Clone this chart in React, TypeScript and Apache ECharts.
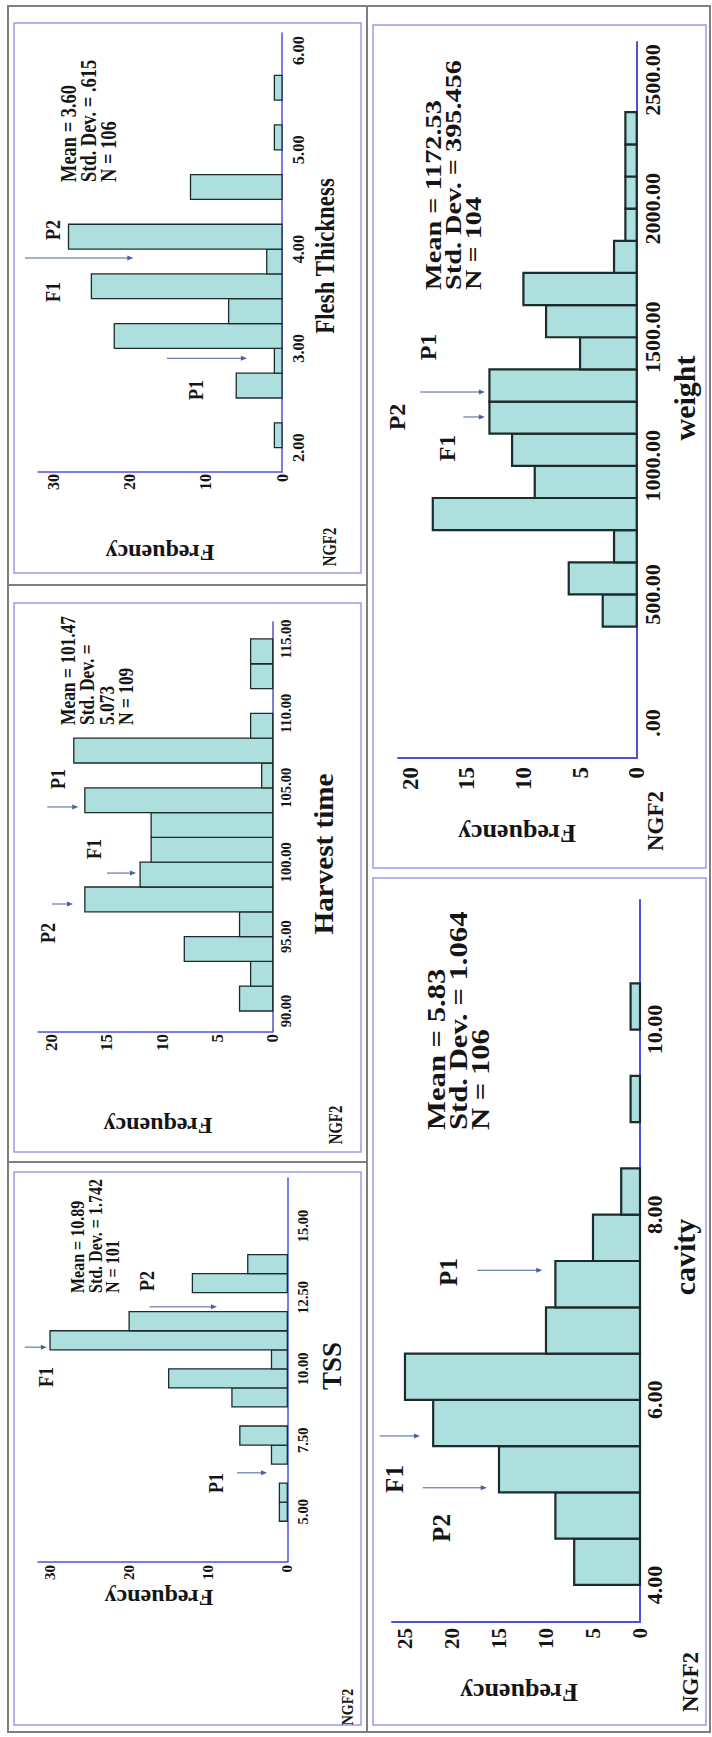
import React, { useEffect, useRef } from 'react';
import * as echarts from 'echarts';

// ---------------- data ----------------
// Flesh Thickness
const fleshBinStarts = [2.0, 2.25, 2.5, 2.75, 3.0, 3.25, 3.5, 3.75, 4.0, 4.25, 4.5, 4.75, 5.0, 5.25, 5.5];
const fleshCounts = [1, 0, 6, 1, 22, 7, 25, 2, 28, 0, 12, 0, 1, 0, 1];
const fleshBinWidth = 0.25;
const fleshTicks = [2, 3, 4, 5, 6];
const fleshFreqTicks = [0, 10, 20, 30];
const fleshArrows = [[3.91, 33.7, 19.5], [2.9, 15.1, 4.6]];

// Harvest time
const harvestBinStarts = [90, 91.667, 93.333, 95, 96.667, 98.333, 100, 101.667, 103.333, 105, 106.667, 108.333, 110, 111.667, 113.333];
const harvestCounts = [3, 2, 8, 3, 17, 12, 11, 11, 17, 1, 18, 2, 0, 2, 2];
const harvestBinWidth = 1.6667;
const harvestTicks = [90, 95, 100, 105, 110, 115];
const harvestFreqTicks = [0, 5, 10, 15, 20];
const harvestArrows = [[97.19, 19.97, 18.07], [99.27, 15.0, 12.37], [103.71, 20.4, 17.6]];

// TSS
const tssBinStarts = [4.667, 5.333, 6.0, 6.667, 7.333, 8.0, 8.667, 9.333, 10.0, 10.667, 11.333, 12.0, 12.667, 13.333];
const tssCounts = [1, 1, 0, 2, 6, 0, 7, 15, 2, 30, 20, 0, 12, 5];
const tssBinWidth = 0.6667;
const tssTicks = [5, 7.5, 10, 12.5, 15];
const tssFreqTicks = [0, 10, 20, 30];
const tssArrows = [[10.76, 33.2, 30.4], [12.17, 17.4, 8.9], [6.36, 6.36, 2.57]];

// weight
const weightBinStarts = [375, 500, 625, 750, 875, 1000, 1125, 1250, 1375, 1500, 1625, 1750, 1875, 2000, 2125, 2250];
const weightCounts = [3, 6, 2, 18, 9, 11, 13, 13, 5, 8, 10, 2, 1, 1, 1, 1];
const weightBinWidth = 125;
const weightTicks = [0, 500, 1000, 1500, 2000, 2500];
const weightFreqTicks = [0, 5, 10, 15, 20];
const weightArrows = [[1287, 19.1, 13.4], [1190, 15.3, 13.4]];

// cavity
const cavityBinStarts = [4.0, 4.5, 5.0, 5.5, 6.0, 6.5, 7.0, 7.5, 8.0, 8.5, 9.0, 9.5, 10.0];
const cavityCounts = [7, 9, 15, 22, 25, 10, 9, 5, 2, 0, 1, 0, 1];
const cavityBinWidth = 0.5;
const cavityTicks = [4, 6, 8, 10];
const cavityFreqTicks = [0, 5, 10, 15, 20, 25];
const cavityArrows = [[5.61, 27.7, 23.4], [5.05, 23.1, 16.3], [7.4, 17.3, 10.4]];

// ---------------- styling / layout (landscape coordinates) ----------------
const FONT = "'Liberation Serif', 'Times New Roman', serif";
const TXT = '#151515';
const BAR_FILL = '#acdfdd';
const BAR_STROKE = '#1c2b2b';
const AXIS_COLOR = '#4f4fdc';
const FRAME_COLOR = '#9a9ae8';
const GRAY = '#7f7f7f';
const ARROW = '#4a5f9c';

type Panel = {
  left: number; top: number; width: number; height: number;
  xMin: number; xMax: number; yMax: number;
  xFont: number; xMargin: number; yFont: number; yMargin: number;
  lw: number; axisW: number;
  starts: number[]; counts: number[]; bw: number;
  ticks: number[]; freqTicks: number[]; arrows: number[][];
};

const panels: Panel[] = [
  { left: 1265, top: 38, width: 439, height: 244, xMin: 1.755, xMax: 6.176, yMax: 32, xFont: 16.5, xMargin: 8, yFont: 16, yMargin: 2, lw: 1.3, axisW: 1.5,
    starts: fleshBinStarts, counts: fleshCounts, bw: fleshBinWidth, ticks: fleshTicks, freqTicks: fleshFreqTicks, arrows: fleshArrows },
  { left: 705, top: 38, width: 410, height: 234.7, xMin: 88.59, xMax: 116.14, yMax: 21.24, xFont: 14.5, xMargin: 6, yFont: 17, yMargin: 2, lw: 1.3, axisW: 1.5,
    starts: harvestBinStarts, counts: harvestCounts, bw: harvestBinWidth, ticks: harvestTicks, freqTicks: harvestFreqTicks, arrows: harvestArrows },
  { left: 175, top: 38, width: 384, height: 249.3, xMin: 3.24, xMax: 16.68, yMax: 31.52, xFont: 14.5, xMargin: 8, yFont: 15, yMargin: 3, lw: 1.3, axisW: 1.5,
    starts: tssBinStarts, counts: tssCounts, bw: tssBinWidth, ticks: tssTicks, freqTicks: tssFreqTicks, arrows: tssArrows },
  { left: 979, top: 398, width: 716, height: 238.7, xMin: -136, xMax: 2648, yMax: 21.07, xFont: 22, xMargin: 5, yFont: 23, yMargin: 9, lw: 2.2, axisW: 2,
    starts: weightBinStarts, counts: weightCounts, bw: weightBinWidth, ticks: weightTicks, freqTicks: weightFreqTicks, arrows: weightArrows },
  { left: 115, top: 392, width: 722, height: 248, xMin: 3.6, xMax: 11.4, yMax: 26.38, xFont: 22, xMargin: 3, yFont: 21, yMargin: 6, lw: 2.2, axisW: 2,
    starts: cavityBinStarts, counts: cavityCounts, bw: cavityBinWidth, ticks: cavityTicks, freqTicks: cavityFreqTicks, arrows: cavityArrows },
];

// sx: horizontal (reading-direction) scale of the glyphs, as in the reference
type T = { t: string; x: number; y: number; fs: number; sx?: number; lh?: number; block?: boolean; rot?: boolean };
const texts: T[] = [
  // Flesh Thickness
  { t: 'Mean = 3.60\nStd. Dev. = .615\nN = 106', x: 1555, y: 58, fs: 22.5, sx: 0.82, lh: 20, block: true },
  { t: 'P2', x: 1507, y: 52, fs: 22, sx: 0.82 },
  { t: 'F1', x: 1445, y: 52, fs: 22, sx: 0.82 },
  { t: 'P1', x: 1347, y: 195, fs: 22, sx: 0.82 },
  { t: 'Flesh Thickness', x: 1481, y: 325, fs: 27, sx: 0.85 },
  { t: 'Frequency', x: 1184, y: 160, fs: 24, rot: true },
  { t: 'NGF2', x: 1190, y: 330, fs: 18, sx: 0.82 },
  // Harvest time
  { t: 'Mean = 101.47\nStd. Dev. =\n5.073\nN = 109', x: 1012, y: 58.4, fs: 21, sx: 0.83, lh: 19.3, block: true },
  { t: 'P2', x: 804, y: 47, fs: 22, sx: 0.82 },
  { t: 'F1', x: 888, y: 93, fs: 22, sx: 0.82 },
  { t: 'P1', x: 958, y: 57, fs: 22, sx: 0.82 },
  { t: 'Harvest time', x: 883, y: 324, fs: 28, sx: 1.04 },
  { t: 'Frequency', x: 611, y: 158, fs: 24, rot: true },
  { t: 'NGF2', x: 612, y: 336, fs: 18, sx: 0.82 },
  // TSS
  { t: 'Mean = 10.89\nStd. Dev. = 1.742\nN = 101', x: 444, y: 69, fs: 19.5, sx: 0.82, lh: 17.5, block: true },
  { t: 'F1', x: 360, y: 45, fs: 22, sx: 0.82 },
  { t: 'P2', x: 456, y: 146, fs: 22, sx: 0.82 },
  { t: 'P1', x: 254, y: 215, fs: 22, sx: 0.82 },
  { t: 'TSS', x: 371, y: 332, fs: 27, sx: 1 },
  { t: 'Frequency', x: 139, y: 159, fs: 24, rot: true },
  { t: 'NGF2', x: 30, y: 347, fs: 17, sx: 0.82 },
  // weight
  { t: 'Mean = 1172.53\nStd. Dev. = 395.456\nN = 104', x: 1447, y: 423, fs: 24, sx: 1.18, lh: 20, block: true },
  { t: 'P2', x: 1320, y: 397, fs: 24 },
  { t: 'P1', x: 1390, y: 428, fs: 24 },
  { t: 'F1', x: 1289, y: 447, fs: 24 },
  { t: 'weight', x: 1339, y: 684, fs: 30 },
  { t: 'Frequency', x: 904, y: 517, fs: 26, rot: true },
  { t: 'NGF2', x: 916, y: 655, fs: 23 },
  // cavity
  { t: 'Mean = 5.83\nStd. Dev. = 1.064\nN = 106', x: 607, y: 425, fs: 26, sx: 1.18, lh: 22, block: true },
  { t: 'F1', x: 258, y: 394, fs: 25 },
  { t: 'P2', x: 209, y: 441, fs: 25 },
  { t: 'P1', x: 465, y: 448, fs: 25 },
  { t: 'cavity', x: 480, y: 684, fs: 30 },
  { t: 'Frequency', x: 45, y: 519, fs: 26, rot: true },
  { t: 'NGF2', x: 55, y: 690, fs: 23 },
];

const frames = [
  { x: 12, y: 14, w: 553, h: 347 },
  { x: 585, y: 14, w: 549, h: 347 },
  { x: 1164, y: 14, w: 550, h: 347 },
  { x: 869, y: 373, w: 843, h: 333 },
  { x: 12, y: 373, w: 847, h: 333 },
];

function fmt(v: number) {
  return v === 0 ? '.00' : v.toFixed(2);
}

function buildOption() {
  const grid = panels.map((p) => ({
    left: p.left, top: p.top, width: p.width, height: p.height,
    containLabel: false, outerBoundsMode: 'none',
  }));
  const xAxis = panels.map((p, i) => ({
    type: 'value', gridIndex: i, min: p.xMin, max: p.xMax,
    axisLine: { show: true, onZero: false, lineStyle: { color: AXIS_COLOR, width: p.axisW } },
    axisTick: { show: false }, splitLine: { show: false },
    axisLabel: {
      customValues: p.ticks, formatter: (v: number) => fmt(v),
      fontFamily: FONT, fontWeight: 'bold', fontSize: p.xFont, color: TXT, margin: p.xMargin,
    },
  }));
  const yAxis = panels.map((p, i) => ({
    type: 'value', gridIndex: i, min: 0, max: p.yMax,
    axisLine: { show: true, onZero: false, lineStyle: { color: AXIS_COLOR, width: p.axisW } },
    axisTick: { show: false }, splitLine: { show: false },
    axisLabel: {
      customValues: p.freqTicks, formatter: (v: number) => String(v),
      fontFamily: FONT, fontWeight: 'bold', fontSize: p.yFont, color: TXT, margin: p.yMargin,
    },
  }));
  const series: any[] = [];
  panels.forEach((p, i) => {
    const lw = p.lw;
    series.push({
      type: 'custom', xAxisIndex: i, yAxisIndex: i, clip: false,
      data: p.starts.map((s, k) => [s, s + p.bw, p.counts[k]]),
      encode: { x: [0, 1], y: 2 },
      renderItem: (_params: any, api: any) => {
        const c = api.value(2);
        if (!c) return { type: 'group', children: [] };
        const a = api.coord([api.value(0), c]);
        const b = api.coord([api.value(1), 0]);
        return {
          type: 'rect',
          shape: { x: a[0], y: a[1], width: b[0] - a[0], height: b[1] - a[1] },
          style: { fill: BAR_FILL, stroke: BAR_STROKE, lineWidth: lw },
        };
      },
    });
    series.push({
      type: 'custom', xAxisIndex: i, yAxisIndex: i, clip: false, z: 5,
      data: p.arrows,
      encode: { x: 0, y: [1, 2] },
      renderItem: (_params: any, api: any) => {
        const a = api.coord([api.value(0), api.value(1)]);
        const b = api.coord([api.value(0), api.value(2)]);
        return {
          type: 'group',
          children: [
            { type: 'line', shape: { x1: a[0], y1: a[1], x2: b[0], y2: b[1] - 4 }, style: { stroke: ARROW, lineWidth: 1 } },
            { type: 'polygon', shape: { points: [[b[0] - 2.5, b[1] - 6], [b[0] + 2.5, b[1] - 6], [b[0], b[1]]] }, style: { fill: ARROW } },
          ],
        };
      },
    });
  });

  const graphic: any[] = [];
  graphic.push({ type: 'rect', shape: { x: 5, y: 8, width: 1726, height: 702 }, style: { fill: 'none', stroke: GRAY, lineWidth: 2 }, silent: true });
  graphic.push({ type: 'line', shape: { x1: 575, y1: 8, x2: 575, y2: 367 }, style: { stroke: GRAY, lineWidth: 2 } });
  graphic.push({ type: 'line', shape: { x1: 1152, y1: 8, x2: 1152, y2: 367 }, style: { stroke: GRAY, lineWidth: 2 } });
  graphic.push({ type: 'line', shape: { x1: 5, y1: 367, x2: 1731, y2: 367 }, style: { stroke: GRAY, lineWidth: 2 } });
  frames.forEach((f) => {
    graphic.push({ type: 'rect', shape: { x: f.x, y: f.y, width: f.w, height: f.h }, style: { fill: 'none', stroke: FRAME_COLOR, lineWidth: 1.5 }, silent: true });
  });
  texts.forEach((t) => {
    graphic.push({
      type: 'text', x: t.x, y: t.y, rotation: t.rot ? Math.PI / 2 : 0, z: 10,
      scaleX: t.sx || 1, scaleY: 1,
      style: {
        text: t.t, fontFamily: FONT, fontWeight: 'bold', fontSize: t.fs, fill: TXT,
        lineHeight: t.lh || Math.round(t.fs * 1.15),
        align: t.block ? 'left' : 'center', textAlign: t.block ? 'left' : 'center',
        verticalAlign: t.block ? 'top' : 'middle', textVerticalAlign: t.block ? 'top' : 'middle',
      },
    });
  });

  return {
    animation: false,
    backgroundColor: '#ffffff',
    grid, xAxis, yAxis, series, graphic,
  };
}

export default function App() {
  const ref = useRef<HTMLDivElement>(null);
  useEffect(() => {
    if (!ref.current) return;
    const chart = echarts.init(ref.current, null, { renderer: 'svg' });
    chart.setOption(buildOption() as any);
    return () => chart.dispose();
  }, []);
  return (
    <div style={{ position: 'absolute', left: 0, top: 0, width: 712, height: 1737, overflow: 'hidden', background: '#fff' }}>
      <div
        ref={ref}
        style={{
          position: 'absolute', left: 0, top: 0, width: 1737, height: 712,
          transformOrigin: '0 0', transform: 'translateY(1737px) rotate(-90deg)',
        }}
      />
    </div>
  );
}
